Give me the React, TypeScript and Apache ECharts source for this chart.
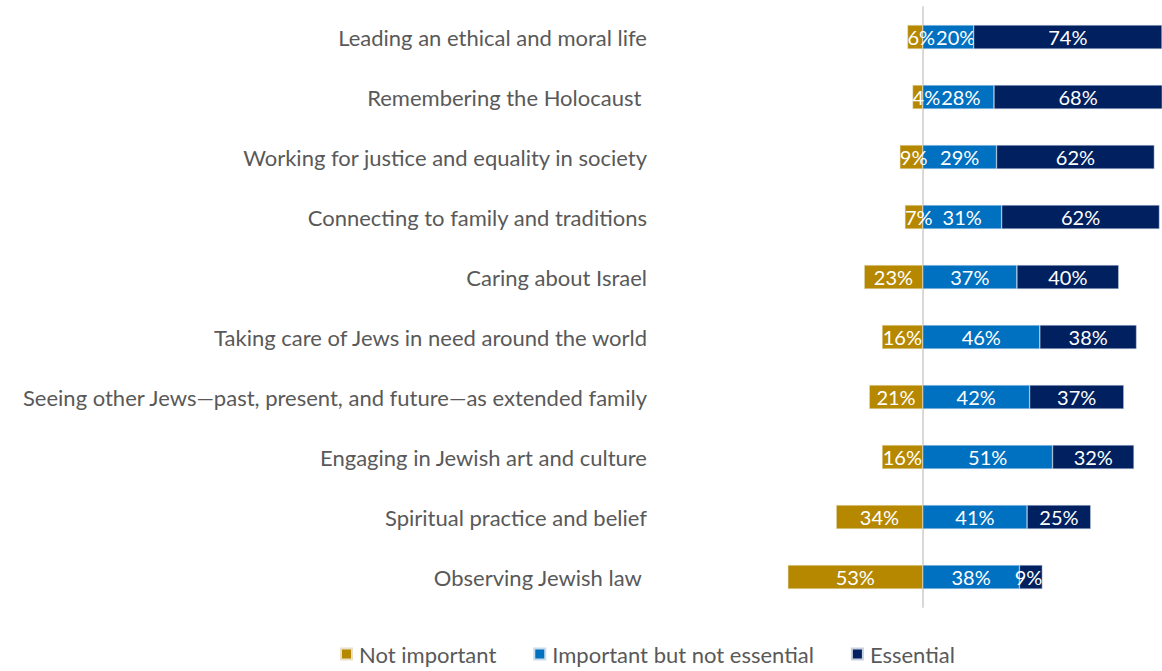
import React, { useEffect, useRef } from "react";
import * as echarts from "echarts";

const categories = [
  "Leading an ethical and moral life",
  "Remembering the Holocaust ",
  "Working for justice and equality in society",
  "Connecting to family and traditions",
  "Caring about Israel",
  "Taking care of Jews in need around the world",
  "Seeing other Jews\u2014past, present, and future\u2014as extended family",
  "Engaging in Jewish art and culture",
  "Spiritual practice and belief",
  "Observing Jewish law ",
];
const notImportant = [6, 4, 9, 7, 23, 16, 21, 16, 34, 53];
const importantNotEssential = [20, 28, 29, 31, 37, 46, 42, 51, 41, 38];
const essential = [74, 68, 62, 62, 40, 38, 37, 32, 25, 9];

const FONT = "Lato, 'Open Sans', sans-serif";
const LABEL_SIZE = 20;
const X_MIN = -60;
const X_MAX = 94;
const GRID_LEFT = 770;
const CHART_W = 1162;

export default function App() {
  const ref = useRef<HTMLDivElement>(null);
  useEffect(() => {
    if (!ref.current) return;
    const chart = echarts.init(ref.current, null, { renderer: "svg" });

    const ctx = document.createElement("canvas").getContext("2d")!;
    ctx.font = `${LABEL_SIZE}px ${FONT}`;
    const tw = (s: string) => ctx.measureText(s).width;
    const scale = (CHART_W - GRID_LEFT) / (X_MAX - X_MIN);

    const label = {
      show: true,
      position: "inside",
      color: "#ffffff",
      fontSize: LABEL_SIZE,
      fontFamily: FONT,
      formatter: (p: any) => Math.abs(p.value) + "%",
    };

    const goldRight: number[] = [];
    const goldData = notImportant.map((v, i) => {
      const bw = v * scale;
      const lw = tw(v + "%");
      let off = 0;
      if (lw > bw) off = (lw - bw) / 2;
      goldRight[i] = -bw / 2 + off + lw / 2;
      return { value: -v, label: { offset: [off, 0] } };
    });
    const blueData = importantNotEssential.map((v, i) => {
      const lw = tw(v + "%");
      const left = (v * scale) / 2 - lw / 2;
      let off = 0;
      if (left < goldRight[i] + 1) off = goldRight[i] + 1 - left;
      return { value: v, label: { offset: [off, 0] } };
    });
    const navyData = essential.map((v) => {
      const bw = v * scale;
      const lw = tw(v + "%");
      let off = 0;
      if (lw > bw) off = -(lw - bw) / 2;
      return { value: v, label: { offset: [off, 0] } };
    });

    chart.setOption({
      animation: false,
      textStyle: { fontFamily: FONT },
      grid: {
        left: GRID_LEFT,
        right: 0,
        top: 7,
        height: 600,
        containLabel: false,
        outerBoundsMode: "none",
      },
      xAxis: {
        type: "value",
        min: X_MIN,
        max: X_MAX,
        show: false,
      },
      yAxis: {
        type: "category",
        data: categories,
        inverse: true,
        axisLine: { show: true, onZero: true, lineStyle: { color: "#D9D9D9", width: 2 } },
        axisTick: { show: false },
        axisLabel: { margin: 123, fontSize: 22, color: "#595959", fontFamily: FONT },
      },
      legend: {
        top: 643,
        left: 340,
        padding: 0,
        itemWidth: 11,
        itemHeight: 11,
        itemGap: 37,
        icon: "rect",
        textStyle: { fontSize: 22, color: "#595959", fontFamily: FONT, padding: [0, 0, 0, 2] },
        data: ["Not important", "Important but not essential", "Essential"],
      },
      series: [
        {
          name: "Not important",
          type: "bar",
          stack: "total",
          barWidth: 24,
          z: 3,
          data: goldData,
          itemStyle: { color: "#B58800", borderColor: "#E8E0C8", borderWidth: 0.5 },
          label,
        },
        {
          name: "Important but not essential",
          type: "bar",
          stack: "total",
          barWidth: 24,
          data: blueData,
          itemStyle: { color: "#0070C0", borderColor: "#C8DCEC", borderWidth: 0.5 },
          label,
        },
        {
          name: "Essential",
          type: "bar",
          stack: "total",
          barWidth: 24,
          z: 3,
          data: navyData,
          itemStyle: { color: "#002060", borderColor: "#C8D0E0", borderWidth: 0.5 },
          label,
        },
      ],
    });
    return () => chart.dispose();
  }, []);
  return (
    <div
      ref={ref}
      style={{ position: "absolute", left: 0, top: 0, width: CHART_W, height: 671 }}
    />
  );
}
